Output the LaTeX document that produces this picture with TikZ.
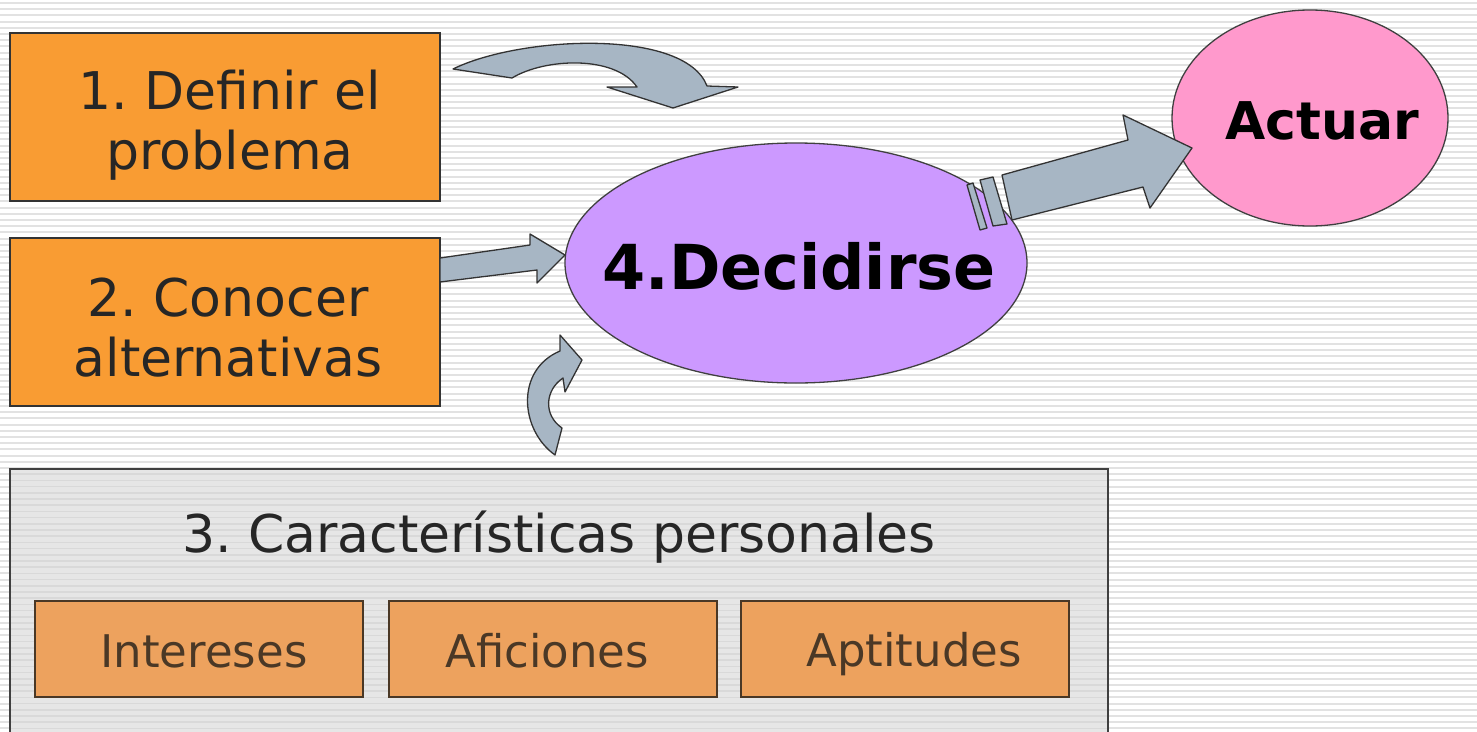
\documentclass[tikz,border=0pt]{standalone}
\usepackage{fontspec}
\setmainfont{DejaVu Sans}
\usetikzlibrary{shapes.geometric}
\definecolor{stripe}{HTML}{E2E2E2}
\definecolor{boxorange}{HTML}{F99C33}
\definecolor{suborange}{HTML}{EDA25E}
\definecolor{subtext}{HTML}{4A3826}
\definecolor{purp}{HTML}{CC99FF}
\definecolor{pinky}{HTML}{FF99CC}
\definecolor{arrowfill}{HTML}{A7B6C4}
\definecolor{graybox}{HTML}{E6E6E6}
\definecolor{graystripe}{HTML}{D9D9D9}
\frenchspacing
\tikzset{
  mainbox/.style={draw=black!80, line width=1.5pt, fill=boxorange, minimum width=430pt, minimum height=168pt, inner sep=0pt},
  maintext/.style={align=center, text=black!85, font=\fontsize{52}{60}\selectfont, inner sep=0pt},
  subbox/.style={draw=subtext, line width=1.5pt, fill=suborange, minimum width=328pt, minimum height=96pt, inner sep=0pt},
  subtextstyle/.style={text=subtext, font=\fontsize{45}{50}\selectfont, inner sep=0pt},
  bigarrow/.style={draw=black!80, line width=1.3pt, fill=arrowfill, line join=round},
  oval/.style={ellipse, draw=black!75, line width=1.3pt, inner sep=0pt}
}
\begin{document}
\begin{tikzpicture}[x=1pt,y=-1pt]
\useasboundingbox (0,0) rectangle (1477,731);
% background stripes
\fill[white] (0,0) rectangle (1477,731);
\foreach \i in {0,...,118} {
  \draw[stripe, line width=2pt] (0,{3+6.2*\i}) -- (1477,{3+6.2*\i});
}
% gray box
\fill[graybox] (10,469) rectangle (1108,735);
\begin{scope}
\clip (10,469) rectangle (1108,735);
\foreach \i in {0,...,118} {
  \draw[graystripe, line width=1.6pt] (0,{3+6.2*\i}) -- (1477,{3+6.2*\i});
}
\end{scope}
\draw[black!75, line width=2pt] (10,740) -- (10,469) -- (1108,469) -- (1108,740);
\node[font=\fontsize{52}{60}\selectfont, text=black!85, inner sep=0pt] (t3) at (559,537) {3. Características personales};
\node[subbox] (int) at (199,649) {};
\node[subbox] (afi) at (553,649) {};
\node[subbox] (apt) at (905,649) {};
\node[subtextstyle] (intt) at (204,651) {Intereses};
\node[subtextstyle] (afit) at (547,651) {Aficiones};
\node[subtextstyle] (aptt) at (914,654) {Aptitudes};
% main boxes
\node[mainbox] (b1) at (225,117) {};
\node[maintext] (b1t) at (230,125) {1. Definir el\\problema};
\node[mainbox] (b2) at (225,322) {};
\node[maintext] (b2t) at (228,328) {2. Conocer\\alternativas};
% ellipses
\node[oval, fill=purp, minimum width=462pt, minimum height=240pt] (dec) at (796,263) {};
\node[font=\bfseries\fontsize{62}{70}\selectfont, inner sep=0pt] (dect) at (799,266) {4.Decidirse};
\node[oval, fill=pinky, minimum width=276pt, minimum height=216pt] (act) at (1310,118) {};
\node[font=\bfseries\fontsize{52}{60}\selectfont, inner sep=0pt] (actt) at (1322,121) {Actuar};
% top curved arrow
\draw[bigarrow] (453,69) .. controls (520,36) and (685,28) .. (707,86)
  -- (738,87) -- (673,108) -- (607,87) -- (637,87)
  .. controls (615,55) and (545,58) .. (512,78) -- cycle;
% straight arrow from box 2
\draw[bigarrow] (440,258) -- (530,245) -- (530,234) -- (565,255) -- (537,283) -- (537,270) -- (440,282) -- cycle;
% curved arrow from bottom
\draw[bigarrow] (555,455) .. controls (520,430) and (515,370) .. (560,351)
  -- (560,335) -- (582,360) -- (565,392) -- (563,378)
  .. controls (545,390) and (543,415) .. (562,428) -- cycle;
% big arrow to Actuar
\draw[bigarrow] (967,185) -- (973,183) -- (987,228) -- (980,230) -- cycle;
\draw[bigarrow] (980,180) -- (993,177) -- (1007,224) -- (993,226) -- cycle;
\draw[bigarrow] (1002,175) -- (1128,140) -- (1123,115) -- (1192,148) -- (1150,208) -- (1143,187) -- (1012,220) -- cycle;
\end{tikzpicture}
\end{document}
